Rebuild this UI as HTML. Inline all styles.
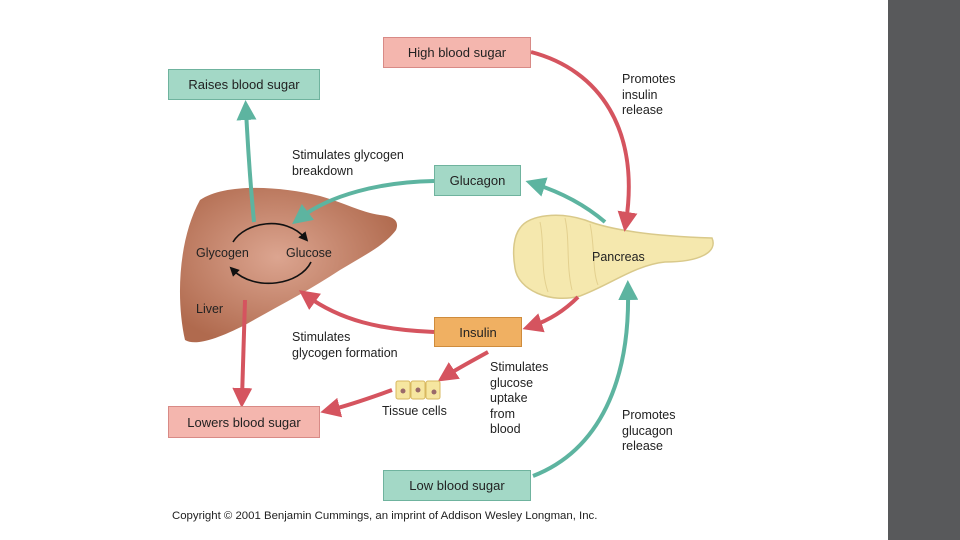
<!DOCTYPE html>
<html><head><meta charset="utf-8"><style>
body{margin:0;width:960px;height:540px;background:#fff;overflow:hidden;position:relative;font-family:"Liberation Sans",sans-serif}
.b{position:absolute;box-sizing:border-box;display:flex;align-items:center;justify-content:center;font-size:13px;color:#222}
.p{background:#f4b6ae;border:1px solid #d88a86}
.t{background:#a3d8c6;border:1px solid #6fb39e}
.o{background:#f0b062;border:1px solid #cf8c3c}
.l{position:absolute;font-size:12.5px;line-height:15.5px;color:#222}
</style></head><body>
<div style="position:absolute;left:888px;top:0;width:72px;height:540px;background:#58595b"></div>
<svg width="960" height="540" style="position:absolute;left:0;top:0">
<defs>
<radialGradient id="lg" cx="0.45" cy="0.45" r="0.6"><stop offset="0" stop-color="#dca590"/><stop offset="1" stop-color="#b06a4e"/></radialGradient>
<marker id="ar" markerWidth="5" markerHeight="5" refX="2.5" refY="2.5" orient="auto"><path d="M0,0L5,2.5L0,5z" fill="#d5545f"/></marker>
<marker id="at" markerWidth="5" markerHeight="5" refX="2.5" refY="2.5" orient="auto"><path d="M0,0L5,2.5L0,5z" fill="#5db4a0"/></marker>
<marker id="ak" markerWidth="6" markerHeight="6" refX="3" refY="3" orient="auto"><path d="M0,0L6,3L0,6z" fill="#111"/></marker>
</defs>
<path d="M200,200 C225,183 280,186 320,196 C345,203 360,212 380,215 C392,216 400,220 396,230 C385,245 365,255 340,270 C310,290 280,305 245,325 C215,340 195,346 185,340 C176,300 178,240 200,200Z" fill="url(#lg)"/>
<path d="M520,228 C530,214 560,212 585,220 C610,230 650,236 712,238 C718,252 700,262 665,262 C635,265 610,285 580,296 C550,304 518,290 515,268 C512,250 514,236 520,228Z" fill="#f5e8ae" stroke="#d9c98a" stroke-width="1.5"/>
<g fill="none" stroke="#e3d08f" stroke-width="1"><path d="M540,222 C545,245 540,270 548,292"/><path d="M565,218 C570,240 566,265 572,290"/><path d="M590,224 C595,245 592,270 598,285"/></g>
<g fill="none" stroke-width="4">
<path d="M531,52 C600,70 640,130 626,222" stroke="#d5545f" marker-end="url(#ar)"/>
<path d="M578,297 C565,310 550,320 532,326" stroke="#d5545f" marker-end="url(#ar)"/>
<path d="M434,332 C380,330 340,320 307,296" stroke="#d5545f" marker-end="url(#ar)"/>
<path d="M488,352 C470,362 455,370 446,376" stroke="#d5545f" marker-end="url(#ar)"/>
<path d="M392,390 C370,398 350,405 330,410" stroke="#d5545f" marker-end="url(#ar)"/>
<path d="M245,300 L242,398" stroke="#d5545f" marker-end="url(#ar)"/>
<path d="M533,476 C600,450 630,380 628,290" stroke="#5db4a0" marker-end="url(#at)"/>
<path d="M605,222 C585,205 560,192 535,184" stroke="#5db4a0" marker-end="url(#at)"/>
<path d="M434,181 C380,182 330,195 300,218" stroke="#5db4a0" marker-end="url(#at)"/>
<path d="M254,222 C250,180 248,150 246,110" stroke="#5db4a0" marker-end="url(#at)"/>
</g>
<g fill="none" stroke="#111" stroke-width="1.6">
<path d="M233,242 C245,222 285,215 305,238" marker-end="url(#ak)"/>
<path d="M311,262 C300,285 255,292 233,270" marker-end="url(#ak)"/>
</g>
<g stroke="#d8b860" fill="#f6e6a0"><rect x="396" y="381" width="14" height="18" rx="2"/><rect x="411" y="381" width="14" height="18" rx="2"/><rect x="426" y="381" width="14" height="18" rx="2"/></g>
<g fill="#9a6a6a"><circle cx="403" cy="391" r="2.5"/><circle cx="418" cy="390" r="2.5"/><circle cx="434" cy="392" r="2.5"/></g>
</svg>
<div class="b p" style="left:383px;top:37px;width:148px;height:31px">High blood sugar</div>
<div class="b t" style="left:168px;top:69px;width:152px;height:31px">Raises blood sugar</div>
<div class="b t" style="left:434px;top:165px;width:87px;height:31px">Glucagon</div>
<div class="b o" style="left:434px;top:317px;width:88px;height:30px">Insulin</div>
<div class="b p" style="left:168px;top:406px;width:152px;height:32px">Lowers blood sugar</div>
<div class="b t" style="left:383px;top:470px;width:148px;height:31px">Low blood sugar</div>
<div class="l" style="left:622px;top:72px">Promotes<br>insulin<br>release</div>
<div class="l" style="left:292px;top:148px">Stimulates glycogen<br>breakdown</div>
<div class="l" style="left:196px;top:246px">Glycogen</div>
<div class="l" style="left:286px;top:246px">Glucose</div>
<div class="l" style="left:196px;top:302px">Liver</div>
<div class="l" style="left:592px;top:250px">Pancreas</div>
<div class="l" style="left:292px;top:330px">Stimulates<br>glycogen formation</div>
<div class="l" style="left:490px;top:360px">Stimulates<br>glucose<br>uptake<br>from<br>blood</div>
<div class="l" style="left:382px;top:404px">Tissue cells</div>
<div class="l" style="left:622px;top:408px">Promotes<br>glucagon<br>release</div>
<div class="l" style="left:172px;top:509px;font-size:11.4px">Copyright © 2001 Benjamin Cummings, an imprint of Addison Wesley Longman, Inc.</div>
</body></html>
